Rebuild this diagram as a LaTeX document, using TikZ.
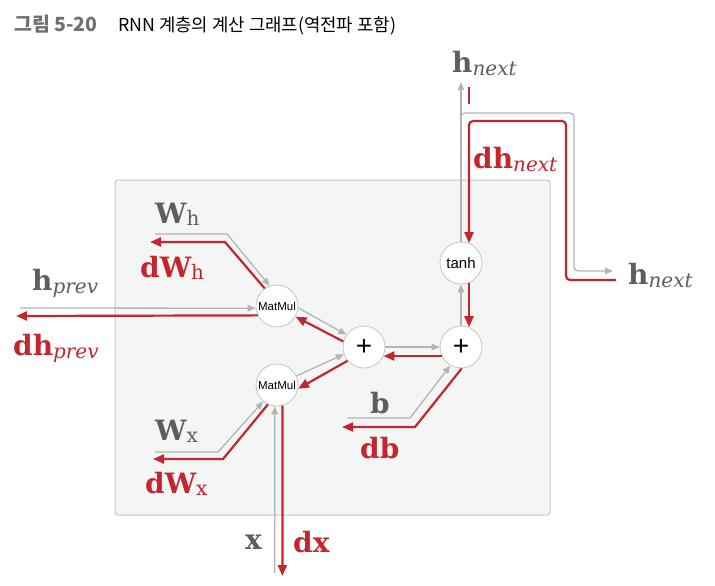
\documentclass[tikz,border=0pt]{standalone}
\usepackage{fontspec}
\setmainfont{DejaVu Serif}
\newfontfamily\kfont{Noto Sans CJK KR}
\newfontfamily\opfont{Liberation Sans}
\usetikzlibrary{arrows.meta}
\definecolor{fwdgray}{HTML}{B4B4B4}
\definecolor{bwdred}{HTML}{C4262E}
\definecolor{labgray}{HTML}{5E5E5E}
\definecolor{boxfill}{HTML}{F4F5F5}
\definecolor{boxline}{HTML}{C6C6C6}
\definecolor{ttlgray}{HTML}{707070}
\newcommand{\vlab}[2]{{\fontsize{28}{28}\selectfont\bfseries #1}\raisebox{-3pt}{\fontsize{20}{20}\selectfont\itshape #2}}
\newcommand{\vlabu}[2]{{\fontsize{28}{28}\selectfont\bfseries #1}\raisebox{-2pt}{\fontsize{20}{20}\selectfont #2}}
\tikzset{
  fwd/.style={draw=fwdgray, line width=1.3pt, -{Triangle[length=8pt,width=6.5pt]}},
  bwd/.style={draw=bwdred, line width=2.2pt, -{Triangle[length=11pt,width=9pt]}},
  op/.style={circle, draw=boxline, fill=white, line width=0.8pt, minimum size=42pt, inner sep=0pt, font=\opfont},
  glab/.style={anchor=base west, inner sep=0pt, text=labgray},
  rlab/.style={anchor=base west, inner sep=0pt, text=bwdred}
}
\begin{document}
\begin{tikzpicture}[x=1pt,y=-1pt]
  \useasboundingbox (0,0) rectangle (715,586);
  \node[anchor=base west, inner sep=0pt, text=ttlgray, font={\kfont\bfseries\fontsize{19.5}{20}\selectfont}] (ttlnum) at (14,32) {그림 5-20};
  \node[anchor=base west, inner sep=0pt, font={\kfont\fontsize{17.8}{18}\selectfont}] (ttltxt) at (118,32) {RNN 계층의 계산 그래프(역전파 포함)};

  \draw[draw=boxline, fill=boxfill, line width=1pt, rounded corners=3pt] (115,180) rectangle (550,515);

  \node[op] (mmh) at (277,306) {\fontsize{11.5}{12}\selectfont MatMul};
  \node[op] (mmx) at (277,385) {\fontsize{11.5}{12}\selectfont MatMul};
  \node[op] (pl) at (364,347) {\fontsize{28}{28}\selectfont +};
  \node[op] (pr) at (461,347) {\fontsize{28}{28}\selectfont +};
  \node[op] (th) at (461,263) {\fontsize{15}{15}\selectfont tanh};

  \coordinate (hpin) at (20,308);
  \coordinate (hpout) at (16,316);
  \coordinate (whin) at (155,234);
  \coordinate (whb) at (227,234);
  \coordinate (whc) at (225,242);
  \coordinate (whout) at (150,242);
  \coordinate (wxin) at (155,452);
  \coordinate (wxb) at (218,452);
  \coordinate (wxc) at (223,459);
  \coordinate (wxout) at (153,459);
  \coordinate (bin) at (347,418);
  \coordinate (bb) at (410,418);
  \coordinate (bc) at (415,427);
  \coordinate (bout) at (342,427);
  \coordinate (xin) at (274.8,573);
  \coordinate (xout) at (282.4,576);
  \coordinate (hnup) at (461,82);
  \coordinate (hnsplit) at (461,130);
  \coordinate (hnc) at (574,113);
  \coordinate (hnright) at (613,271);
  \coordinate (dhnin) at (616,280);
  \coordinate (dhnc) at (566,121);
  \coordinate (dhnt) at (469,87);
  \coordinate (dhnb) at (469,104);

  \draw[fwd] (hpin) -- (mmh.186);
  \draw[bwd] (mmh.206) -- (hpout);
  \draw[fwd] (whin) -- (whb) -- (mmh.110);
  \draw[bwd] (mmh.125) -- (whc) -- (whout);
  \draw[fwd] (mmh.-5) -- (pl.145);
  \draw[bwd] (pl.165) -- (mmh.-30);
  \draw[fwd] (mmx.25) -- (pl.200);
  \draw[bwd] (pl.220) -- (mmx.-10);
  \draw[fwd] (pl.east) -- (pr.west);
  \draw[bwd] (pr.205) -- (pl.-25);
  \draw[fwd] (bin) -- (bb) -- (pr.240);
  \draw[bwd] (pr.-88) -- (bc) -- (bout);
  \draw[fwd] (wxin) -- (wxb) -- (mmx.-130);
  \draw[bwd] (mmx.-115) -- (wxc) -- (wxout);
  \draw[fwd] (xin) -- (mmx.-96);
  \draw[bwd] (mmx.-75) -- (xout);
  \draw[fwd] (pr.north) -- (th.south);
  \draw[bwd] (th.-68) -- (pr.68);
  \draw[fwd] (th.north) -- (hnup);
  \draw[fwd, rounded corners=4pt] (hnsplit) |- (hnc) |- (hnright);
  \draw[bwd, rounded corners=4pt] (dhnin) -| (dhnc) -| (th.68);
  \draw[draw=bwdred, line width=2.2pt] (dhnt) -- (dhnb);

  \node[glab] (hprev) at (32,290) {\vlab{h}{prev}};
  \node[rlab] (dhprev) at (13,355) {\vlab{dh}{prev}};
  \node[glab] (whl) at (155,223) {\vlabu{W}{h}};
  \node[rlab] (dwhl) at (140,277) {\vlabu{dW}{h}};
  \node[glab] (wxl) at (155,440) {\vlabu{W}{x}};
  \node[rlab] (dwxl) at (145,493) {\vlabu{dW}{x}};
  \node[glab] (bl) at (370,413) {\vlab{b}{}};
  \node[rlab] (dbl) at (360,458) {\vlab{db}{}};
  \node[glab] (xl) at (245,549) {\vlab{x}{}};
  \node[rlab] (dxl) at (293,552) {\vlab{dx}{}};
  \node[glab] (hntop) at (452,73) {\vlab{h}{next}};
  \node[rlab] (dhnl) at (473,168) {\vlab{dh}{next}};
  \node[glab] (hnr) at (628,284) {\vlab{h}{next}};
\end{tikzpicture}
\end{document}
